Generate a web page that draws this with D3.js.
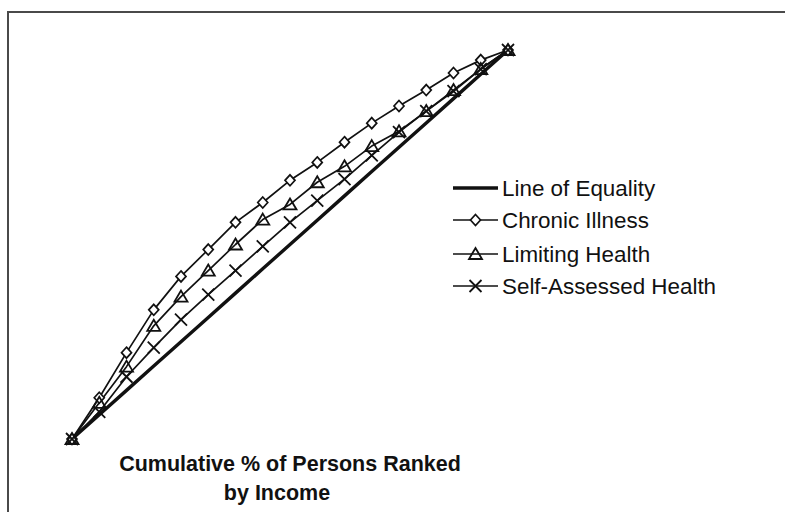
<!DOCTYPE html>
<html>
<head>
<meta charset="utf-8">
<script src="https://cdn.jsdelivr.net/npm/d3@7"></script>
<style>
html,body{margin:0;padding:0;background:#fff;}
svg{display:block;}
</style>
</head>
<body>
<svg id="chart" width="785" height="512"></svg>
<script>
const xValues = [0, 6.25, 12.5, 18.75, 25, 31.25, 37.5, 43.75, 50, 56.25, 62.5, 68.75, 75, 81.25, 87.5, 93.75, 100];
const equality = [0, 6.25, 12.5, 18.75, 25, 31.25, 37.5, 43.75, 50, 56.25, 62.5, 68.75, 75, 81.25, 87.5, 93.75, 100];
const chronicIllness = [0, 10.6, 22.2, 33.2, 41.8, 48.7, 55.7, 60.8, 66.5, 71.1, 76.3, 81.2, 85.6, 89.7, 94.1, 97.4, 100];
const limitingHealth = [0, 9.3, 18.6, 29.1, 36.6, 43.3, 50.0, 56.4, 60.3, 66.0, 70.1, 75.3, 79.1, 84.3, 89.7, 95.1, 100];
const selfAssessed = [0, 7.0, 16.0, 23.5, 30.7, 37.1, 43.3, 49.5, 55.7, 61.3, 66.8, 72.9, 78.9, 84.3, 89.4, 95.1, 100];
const seriesNames = ["Line of Equality", "Chronic Illness", "Limiting Health", "Self-Assessed Health"];
const titleLines = ["Cumulative % of Persons Ranked", "by Income"];

const svg = d3.select("#chart");
const x = d3.scaleLinear().domain([0, 100]).range([72, 508]);
const y = d3.scaleLinear().domain([0, 100]).range([439, 50]);

// frame
svg.append("path").attr("d", "M8,512 L8,12 L785,12")
  .attr("fill", "none").attr("stroke", "#4a4a4a").attr("stroke-width", 2);

const line = d3.line().x(d => x(d[0])).y(d => y(d[1]));
const series = [
  {name: seriesNames[0], vals: equality, marker: null, width: 3.4},
  {name: seriesNames[1], vals: chronicIllness, marker: "diamond", width: 1.7},
  {name: seriesNames[2], vals: limitingHealth, marker: "triangle", width: 1.7},
  {name: seriesNames[3], vals: selfAssessed, marker: "x", width: 1.7}
];

function drawMarker(g, type, cx, cy) {
  if (type === "diamond") {
    g.append("path").attr("d", `M${cx},${cy-5.5} L${cx+5},${cy} L${cx},${cy+5.5} L${cx-5},${cy} Z`)
      .attr("fill", "#fff").attr("stroke", "#111").attr("stroke-width", 1.7);
  } else if (type === "triangle") {
    g.append("path").attr("d", `M${cx},${cy-6} L${cx+6.5},${cy+5} L${cx-6.5},${cy+5} Z`)
      .attr("fill", "none").attr("stroke", "#111").attr("stroke-width", 1.8);
  } else if (type === "x") {
    g.append("path").attr("d", `M${cx-6},${cy-6} L${cx+6},${cy+6} M${cx+6},${cy-6} L${cx-6},${cy+6}`)
      .attr("fill", "none").attr("stroke", "#111").attr("stroke-width", 1.8);
  }
}

series.forEach(s => {
  const pts = xValues.map((xv, i) => [xv, s.vals[i]]);
  svg.append("path").datum(pts).attr("d", line)
    .attr("fill", "none").attr("stroke", "#111").attr("stroke-width", s.width)
    .attr("stroke-linejoin", "round");
});
series.forEach(s => {
  if (!s.marker) return;
  const g = svg.append("g");
  xValues.forEach((xv, i) => drawMarker(g, s.marker, x(xv), y(s.vals[i])));
});

// legend
const legendY = [188, 220, 254, 286];
series.forEach((s, i) => {
  const g = svg.append("g");
  g.append("line").attr("x1", 453).attr("x2", 498).attr("y1", legendY[i]).attr("y2", legendY[i])
    .attr("stroke", "#111").attr("stroke-width", s.marker ? 1.7 : 3.6);
  if (s.marker) drawMarker(g, s.marker, 475.5, legendY[i]);
  g.append("text").attr("x", 502).attr("y", legendY[i]).attr("dy", "0.36em")
    .attr("font-family", "Liberation Sans, Arial, sans-serif").attr("font-size", 22.4)
    .attr("fill", "#111").text(s.name);
});

// axis title
const tY = [471, 500];
const tX = [290, 277];
titleLines.forEach((t, i) => {
  svg.append("text").attr("x", tX[i]).attr("y", tY[i]).attr("text-anchor", "middle")
    .attr("font-family", "Liberation Sans, Arial, sans-serif").attr("font-weight", "bold")
    .attr("font-size", 21.5).attr("fill", "#111").text(t);
});
</script>
</body>
</html>
